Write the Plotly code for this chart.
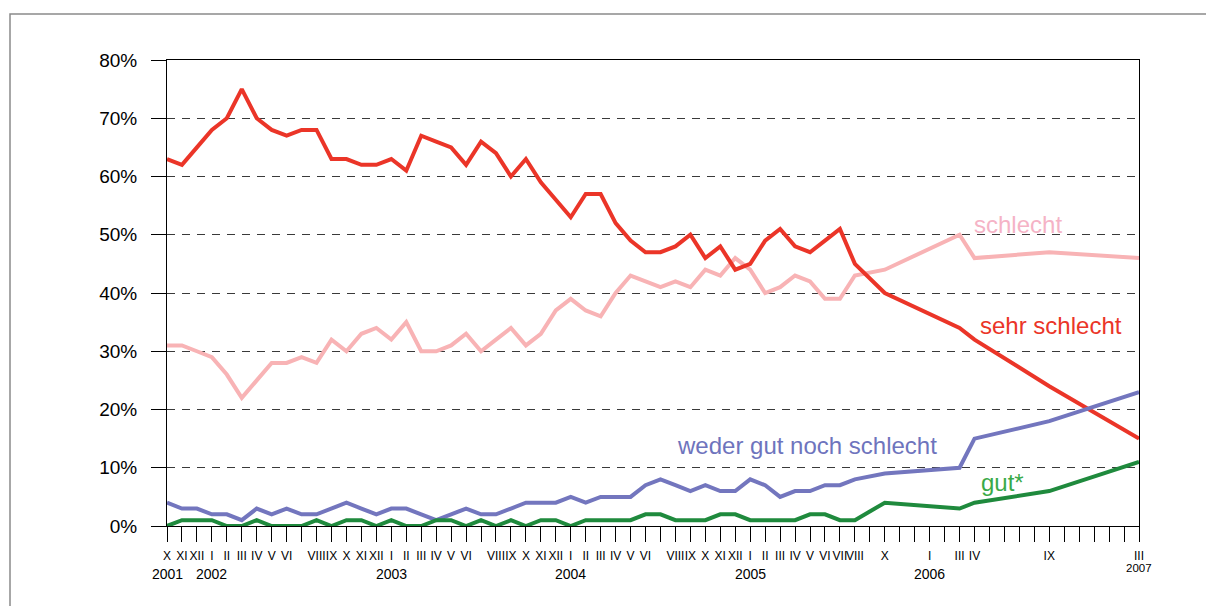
import plotly.graph_objects as go

# Month index 0 = X 2001 ... 65 = III 2007
month_labels = ["X", "XI", "XII", "I", "II", "III", "IV", "V", "VI", "", "VIII", "IX",
                "X", "XI", "XII", "I", "II", "III", "IV", "V", "VI", "", "VIII", "IX",
                "X", "XI", "XII", "I", "II", "III", "IV", "V", "VI", "", "VIII", "IX",
                "X", "XI", "XII", "I", "II", "III", "IV", "V", "VI", "VII", "VIII", "",
                "X", "", "", "I", "", "III", "IV", "", "", "", "", "IX",
                "", "", "", "", "", "III"]
year_labels = ["2001", "2002", "2003", "2004", "2005", "2006"]
year_pos = [0, 3, 15, 27, 39, 51]
last_year_label = "2007"

N = None
sehr_schlecht = [63, 62, 65, 68, 70, 75, 70, 68, 67, 68, 68, 63, 63, 62, 62, 63, 61, 67, 66, 65, 62, 66,
                 64, 60, 63, 59, 56, 53, 57, 57, 52, 49, 47, 47, 48, 50, 46, 48, 44, 45, 49, 51, 48, 47,
                 49, 51, 45, N, 40, N, N, N, N, 34, 32, N, N, N, N, 24, N, N, N, N, N, 15]
schlecht = [31, 31, 30, 29, 26, 22, 25, 28, 28, 29, 28, 32, 30, 33, 34, 32, 35, 30, 30, 31, 33, 30,
            32, 34, 31, 33, 37, 39, 37, 36, 40, 43, 42, 41, 42, 41, 44, 43, 46, 44, 40, 41, 43, 42,
            39, 39, 43, N, 44, N, N, N, N, 50, 46, N, N, N, N, 47, N, N, N, N, N, 46]
weder = [4, 3, 3, 2, 2, 1, 3, 2, 3, 2, 2, 3, 4, 3, 2, 3, 3, 2, 1, 2, 3, 2,
         2, 3, 4, 4, 4, 5, 4, 5, 5, 5, 7, 8, 7, 6, 7, 6, 6, 8, 7, 5, 6, 6,
         7, 7, 8, N, 9, N, N, N, N, 10, 15, N, N, N, N, 18, N, N, N, N, N, 23]
gut = [0, 1, 1, 1, 0, 0, 1, 0, 0, 0, 1, 0, 1, 1, 0, 1, 0, 0, 1, 1, 0, 1,
       0, 1, 0, 1, 1, 0, 1, 1, 1, 1, 2, 2, 1, 1, 1, 2, 2, 1, 1, 1, 1, 2,
       2, 1, 1, N, 4, N, N, N, N, 3, 4, N, N, N, N, 6, N, N, N, N, N, 11]

x = list(range(len(month_labels)))
FONT = "Arial, Liberation Sans, sans-serif"

series = [
    ("schlecht", schlecht, "#F8B3B5"),
    ("sehr schlecht", sehr_schlecht, "#EB3528"),
    ("weder gut noch schlecht", weder, "#7376BE"),
    ("gut*", gut, "#1F8A3D"),
]

fig = go.Figure()
for name, vals, col in series:
    fig.add_trace(go.Scatter(x=x, y=vals, mode="lines", name=name, connectgaps=True,
                             line=dict(color=col, width=4)))

OFF = 8  # page body margin
W, H = 1214, 606
# plot area in page pixels: left 167, right 1139, top 60, bottom 526
L = 167 - OFF
T = 60 - OFF
R = W - (1139 - OFF)
B = H - (526 - OFF)
pw, ph = W - L - R, H - T - B

def px(xp):
    return (xp - OFF - L) / pw

def py(yp):
    return (H - B - (yp - OFF)) / ph

annotations = []
for lab, pos in zip(year_labels, year_pos):
    annotations.append(dict(x=pos, y=py(574), xref="x", yref="paper", text=lab, showarrow=False,
                            font=dict(family=FONT, size=14, color="black"), yanchor="middle"))
annotations.append(dict(x=65, y=py(568), xref="x", yref="paper", text=last_year_label, showarrow=False,
                        font=dict(family=FONT, size=11.5, color="black"), yanchor="middle"))

labels = [
    ("schlecht", 1018, 224, "#F5B3C6"),
    ("sehr schlecht", 1051, 325, "#EB3528"),
    ("weder gut noch schlecht", 807, 445, "#6E74BD"),
    ("gut*", 1002, 482, "#3AAA48"),
]
for t, xx, yy, c in labels:
    annotations.append(dict(x=px(xx), y=py(yy), xref="paper", yref="paper", text=t, showarrow=False,
                            font=dict(family=FONT, size=24, color=c), xanchor="center", yanchor="middle"))

fig.update_layout(
    width=W, height=H,
    margin=dict(l=L, r=R, t=T, b=B),
    paper_bgcolor="white", plot_bgcolor="white",
    showlegend=False,
    font=dict(family=FONT, color="black"),
    annotations=annotations,
    shapes=[dict(type="rect", xref="paper", yref="paper",
                 x0=px(10), x1=px(1260), y0=py(660), y1=py(14),
                 line=dict(color="#8a8a8a", width=1.5), layer="below")],
)
fig.update_xaxes(range=[0, 65], tickmode="array", tickvals=x, ticktext=month_labels,
                 ticks="outside", ticklen=15, tickcolor="black", tickwidth=1,
                 ticklabelstandoff=4,
                 showline=True, linecolor="black", linewidth=1, mirror=True,
                 showgrid=False, zeroline=False, tickangle=0,
                 tickfont=dict(family=FONT, size=12, color="black"))
fig.update_yaxes(range=[0, 80], dtick=10, ticksuffix="%",
                 ticks="outside", ticklen=15, tickcolor="black", tickwidth=1,
                 ticklabelstandoff=10,
                 showline=True, linecolor="black", linewidth=1, mirror=True,
                 showgrid=True, gridcolor="#3a3a3a", gridwidth=1.2, griddash="8px,7px",
                 zeroline=False,
                 tickfont=dict(family=FONT, size=19, color="black"))

fig.write_html("out.html")
